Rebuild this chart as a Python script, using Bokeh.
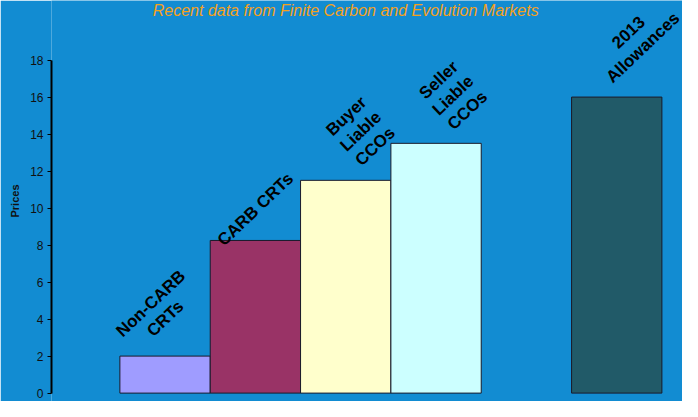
from bokeh.plotting import figure
from bokeh.models import Range1d, ColumnDataSource, Label, FixedTicker
from bokeh.core.properties import value
from bokeh.embed import file_html
from bokeh.resources import INLINE

# ---- data ----
categories = ["Non-CARB\nCRTs", "CARB CRTs", "Buyer\nLiable\nCCOs",
              "Seller\nLiable\nCCOs", "2013\nAllowances"]
slots = [1, 2, 3, 4, 6]
prices = [2.0, 8.25, 11.5, 13.5, 16.0]
y_ticks = [0, 2, 4, 6, 8, 10, 12, 14, 16, 18]
title_text = "Recent data from Finite Carbon and Evolution Markets"
y_title = "Prices"

# ---- styles ----
bar_colors = ["#9F9CFF", "#993366", "#FFFFCC", "#CCFFFF", "#215A68"]
label_dx = [-7, 0, 15, 17, 19]
label_dy = [-45, -31, -49, -48, -57]
BG = "#128CD2"

src = ColumnDataSource(dict(x=slots, top=prices, color=bar_colors, text=categories,
                            dx=label_dx, dy=label_dy))

p = figure(width=682, height=401, output_backend="svg", toolbar_location=None,
           x_range=Range1d(-0.257, 6.728), y_range=Range1d(-0.454, 21.22),
           x_axis_location=None, min_border_left=51, min_border_right=0,
           min_border_top=0, min_border_bottom=0)
p.background_fill_color = BG
p.border_fill_color = BG
p.outline_line_color = None
p.grid.visible = False

p.vbar(x="x", top="top", bottom=0, width=1, fill_color="color",
       line_color="#1a1a2a", line_width=1, source=src)

p.text(x="x", y="top", text="text", x_offset="dx", y_offset="dy", source=src,
       angle=0.76, text_align="center", text_baseline="middle",
       text_font=value("Liberation Sans"), text_font_style="bold",
       text_font_size="17px", text_line_height=1.1, text_color="black")

ax = p.yaxis[0]
ax.bounds = (0, 18)
ax.ticker = FixedTicker(ticks=y_ticks)
ax.axis_line_width = 2
ax.axis_line_color = "black"
ax.major_tick_out = 4
ax.major_tick_in = 0
ax.major_tick_line_color = "black"
ax.minor_tick_line_color = None
ax.major_label_text_font = "Liberation Sans"
ax.major_label_text_font_size = "12px"
ax.major_label_text_color = "#111111"
ax.major_label_standoff = 4
ax.axis_label = y_title
ax.axis_label_text_font = "Liberation Sans"
ax.axis_label_text_font_size = "11px"
ax.axis_label_text_font_style = "bold"
ax.axis_label_text_color = "#111111"
ax.axis_label_standoff = 6

p.add_layout(Label(x=3.0, y=20.70, text=title_text, text_align="center",
                   text_baseline="middle", text_font="Liberation Sans",
                   text_font_style="italic", text_font_size="16px",
                   text_color="#F4A11E"))

open("out.html", "w").write(file_html(p, INLINE))
